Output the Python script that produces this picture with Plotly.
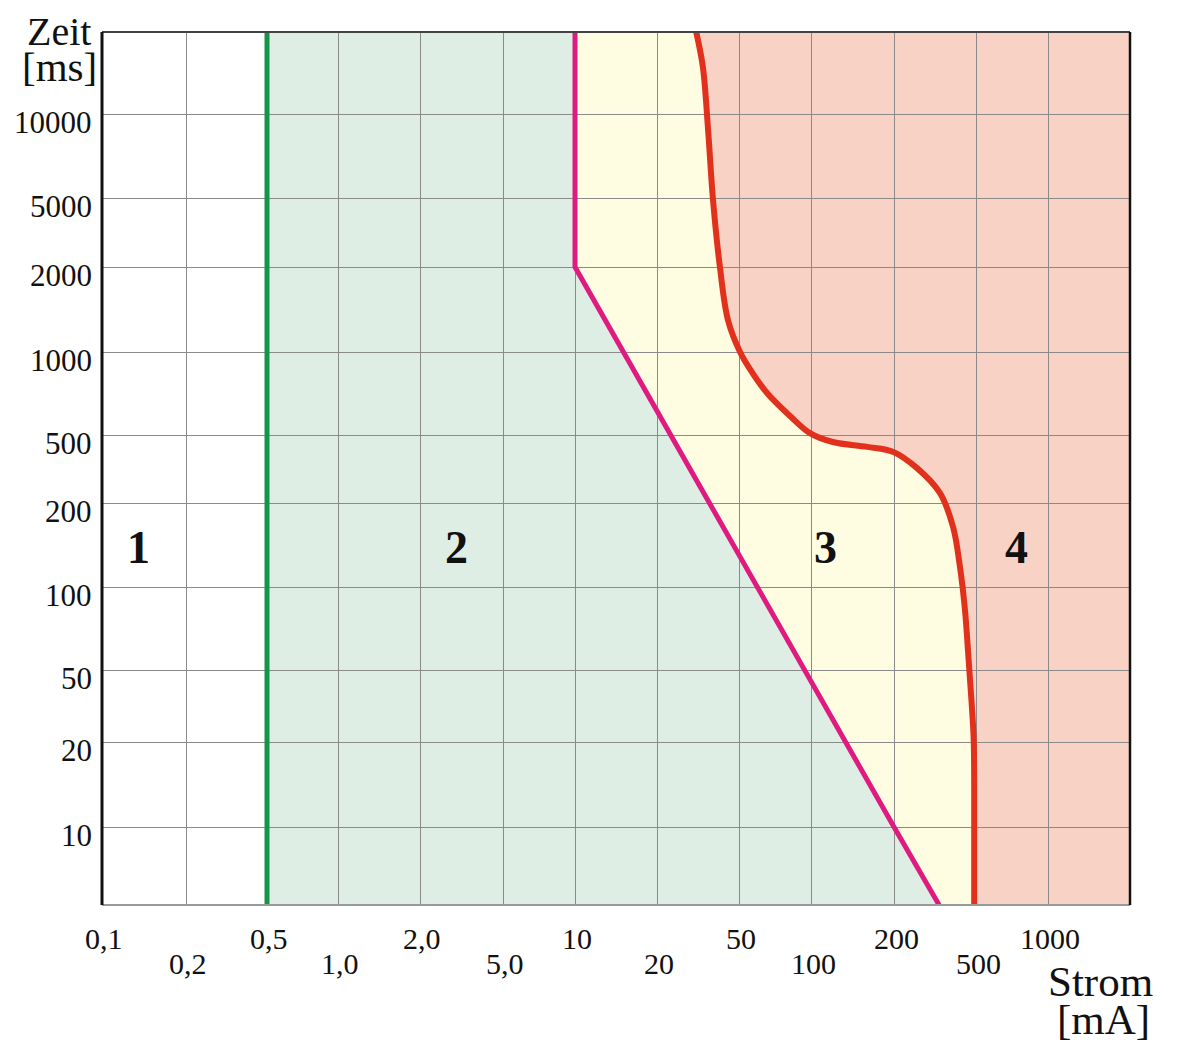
import numpy as np
import plotly.graph_objects as go

# ---------------- data ----------------
current_ticks = [0.1, 0.2, 0.5, 1, 2, 5, 10, 20, 50, 100, 200, 500, 1000]          # mA
current_labels = ["0,1", "0,2", "0,5", "1,0", "2,0", "5,0", "10", "20", "50",
                  "100", "200", "500", "1000"]
time_ticks = [10, 20, 50, 100, 200, 500, 1000, 2000, 5000, 10000]                  # ms
time_labels = ["10", "20", "50", "100", "200", "500", "1000", "2000", "5000", "10000"]

# boundary c1 (green)
c1_current = [0.5, 0.5]
c1_time = [5, 20000]
# boundary c2 (magenta)
c2_current = [10, 10, 200, 331]
c2_time = [20000, 2000, 10, 5]
# boundary c3 (red)
c3_current = [31, 33.4, 35.4, 37.4, 40.4, 44.2, 50.5, 56.6, 65.5, 81.7, 99, 120, 160,
              199, 258, 334, 387, 418, 442, 460, 476, 487, 490, 490]
c3_time = [20000, 14870, 8765, 4870, 2000, 1298, 1000, 846, 710, 586, 508, 455, 426,
           398, 321, 229, 164, 118, 82.5, 55, 33, 21, 14, 5]

region_names = ["1", "2", "3", "4"]
region_current = [0.135, 3.0, 113, 740]
region_time = [138, 138, 138, 138]

# ---------------- axis scale (non-uniform chart grid) ----------------
X_SCALE_VALUES = current_ticks + [2000]
X_POS = [0, 84, 165, 236, 318, 401, 473, 555, 637, 709, 792, 874, 946, 1028]
Y_SCALE_VALUES = [5] + time_ticks + [20000]
Y_POS = [0, 78, 163, 235, 318, 402, 470, 553, 638, 707, 791, 873]


def xs(v):
    return np.interp(np.log10(np.asarray(v, dtype=float)), np.log10(X_SCALE_VALUES), X_POS)


def ys(v):
    return np.interp(np.log10(np.asarray(v, dtype=float)), np.log10(Y_SCALE_VALUES), Y_POS)


def path_from(cur, tim):
    px, py = xs(cur), ys(tim)
    return "M " + " L ".join(f"{a:.2f},{b:.2f}" for a, b in zip(px, py)) + " Z"


FONT = "Liberation Serif"
TXT = "#111111"
GREEN = "#16954a"
MAGENTA = "#df1b80"
RED = "#e1311c"
FILL_GREEN = "#dfeee5"
FILL_YELLOW = "#fefde2"
FILL_SALMON = "#f9d2c6"

fig = go.Figure()

# filled zones (shapes below grid)
green_cur = [0.5, 0.5] + c2_current
green_tim = [5, 20000] + c2_time
yellow_cur = c2_current + c3_current[::-1]
yellow_tim = c2_time + c3_time[::-1]
salmon_cur = c3_current + [X_SCALE_VALUES[-1], X_SCALE_VALUES[-1]]
salmon_tim = c3_time + [Y_SCALE_VALUES[0], Y_SCALE_VALUES[-1]]

shapes = []
for cur, tim, col in [(green_cur, green_tim, FILL_GREEN),
                      (yellow_cur, yellow_tim, FILL_YELLOW),
                      (salmon_cur, salmon_tim, FILL_SALMON)]:
    shapes.append(dict(type="path", path=path_from(cur, tim), xref="x", yref="y",
                       fillcolor=col, line=dict(width=0), layer="below"))

# frame
xmax, ymax = X_POS[-1], Y_POS[-1]
shapes += [
    dict(type="line", xref="paper", yref="paper", x0=0, x1=1, y0=1, y1=1,
         line=dict(color="#444444", width=2)),
    dict(type="line", xref="paper", yref="paper", x0=0, x1=1, y0=0, y1=0,
         line=dict(color="#999999", width=2)),
    dict(type="line", xref="paper", yref="paper", x0=0, x1=0, y0=0, y1=1,
         line=dict(color="#111111", width=3)),
    dict(type="line", xref="paper", yref="paper", x0=1, x1=1, y0=0, y1=1,
         line=dict(color="#111111", width=2.5)),
]

# boundary curves
for cur, tim, col, w in [(c1_current, c1_time, GREEN, 5),
                         (c2_current, c2_time, MAGENTA, 5),
                         (c3_current, c3_time, RED, 6)]:
    line = dict(color=col, width=w)
    if col == RED:
        line.update(shape="spline", smoothing=1.0)
    fig.add_trace(go.Scatter(x=xs(cur), y=ys(tim), mode="lines", line=line,
                             hoverinfo="skip", showlegend=False, cliponaxis=True))

annotations = []
# x tick labels, alternating rows
for i, (v, lab) in enumerate(zip(current_ticks, current_labels)):
    annotations.append(dict(x=float(xs(v)), xref="x", y=0, yref="paper", text=lab,
                            showarrow=False, xanchor="center", yanchor="top",
                            xshift=2, yshift=-15 if i % 2 == 0 else -40,
                            font=dict(family=FONT, size=30, color=TXT)))
# y tick labels
for v, lab in zip(time_ticks, time_labels):
    annotations.append(dict(x=0, xref="paper", y=float(ys(v)), yref="y", text=lab,
                            showarrow=False, xanchor="right", yanchor="middle",
                            xshift=-8, yshift=-8,
                            font=dict(family=FONT, size=31, color=TXT)))
# region numbers
for name, cv, tv in zip(region_names, region_current, region_time):
    annotations.append(dict(x=float(xs(cv)), y=float(ys(tv)), xref="x", yref="y",
                            text=f"<b>{name}</b>", showarrow=False,
                            font=dict(family=FONT, size=46, color=TXT)))
# axis titles
annotations += [
    dict(x=0, y=1, xref="paper", yref="paper", text="Zeit", showarrow=False,
         xanchor="right", yanchor="middle", xshift=-9, yshift=1,
         font=dict(family=FONT, size=40, color=TXT)),
    dict(x=0, y=1, xref="paper", yref="paper", text="[ms]", showarrow=False,
         xanchor="right", yanchor="middle", xshift=-3, yshift=-35,
         font=dict(family=FONT, size=41, color=TXT)),
    dict(x=1, y=0, xref="paper", yref="paper", text="Strom", showarrow=False,
         xanchor="center", yanchor="middle", xshift=-30, yshift=-76,
         font=dict(family=FONT, size=43, color=TXT)),
    dict(x=1, y=0, xref="paper", yref="paper", text="[mA]", showarrow=False,
         xanchor="center", yanchor="middle", xshift=-27, yshift=-114,
         font=dict(family=FONT, size=43, color=TXT)),
]

# page body has an 8 px margin, so the figure is sized/offset to land the plot
# area at the reference position inside the 1178x1047 window
fig.update_layout(
    width=1170, height=1039,
    margin=dict(l=94, r=48, t=24, b=142, autoexpand=False),
    paper_bgcolor="white", plot_bgcolor="white",
    shapes=shapes, annotations=annotations,
    showlegend=False,
    xaxis=dict(range=[0, xmax], tickvals=[float(xs(v)) for v in current_ticks],
               showticklabels=False, showgrid=True, gridcolor="#8a8a8a", gridwidth=1,
               zeroline=False, showline=False, ticks="", fixedrange=True,
               automargin=False),
    yaxis=dict(range=[0, ymax], tickvals=[float(ys(v)) for v in time_ticks],
               showticklabels=False, showgrid=True,
               gridcolor="#8a8a8a", gridwidth=1, zeroline=False, showline=False,
               ticks="", fixedrange=True, automargin=False),
)

fig.write_html("out.html")
